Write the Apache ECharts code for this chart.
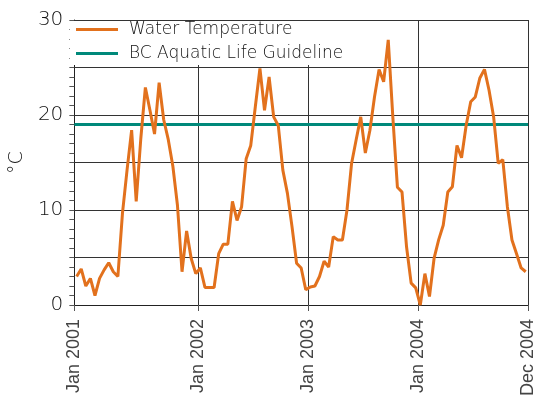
<!DOCTYPE html>
<html>
<head>
<meta charset="utf-8">
<script src="https://cdn.jsdelivr.net/npm/echarts@6/dist/echarts.min.js"></script>
<style>
  html, body { margin: 0; padding: 0; background: #fff; }
  #chart { width: 537px; height: 405px; }
</style>
</head>
<body>
<div id="chart"></div>
<script>
// semi-monthly water temperature samples, Jan 2001 - Dec 2004
const waterTemp = [
  3.0, 3.8, 2.0, 2.8, 1.0, 2.8, 3.7, 4.45, 3.5, 3.0,
  9.65, 14.2, 18.4, 10.9, 17.5, 22.9, 20.5, 18.0, 23.4, 19.5,
  17.4, 14.6, 10.5, 3.5, 7.8, 4.9, 3.3,
  3.9, 1.85, 1.85, 1.85, 5.4, 6.4, 6.4, 10.9, 8.9, 10.35,
  15.4, 16.8, 20.9, 24.9, 20.5, 24.0, 19.8, 18.9, 14.2, 11.75,
  8.25, 4.4, 3.9,
  1.6, 1.9, 2.0, 3.0, 4.6, 4.0, 7.2, 6.85, 6.85, 10.0,
  14.9, 17.4, 19.8, 16.0, 18.4, 21.9, 24.8, 23.5, 27.9, 19.8,
  12.4, 11.9, 6.1, 2.3,
  1.8, 0, 3.3, 0.9, 4.9, 6.85, 8.4, 11.9, 12.45, 16.8,
  15.5, 18.9, 21.4, 21.9, 23.9, 24.8, 22.6, 19.8, 14.9, 15.3,
  10.35, 6.85, 5.4, 3.9, 3.5
];
const guideline = 19;
const tickPos = [0, 27, 51, 75, 99];
const tickLabels = ['Jan 2001', 'Jan 2002', 'Jan 2003', 'Jan 2004', 'Dec 2004'];
const yLabels = [0, 10, 20, 30];

const n = waterTemp.length;
const tempData = waterTemp.map((v, i) => [i + 0.5, v]);

const chart = echarts.init(document.getElementById('chart'));
chart.setOption({
  animation: false,
  grid: { left: 69, right: 5, top: 20, bottom: 100 },
  legend: {
    orient: 'vertical',
    left: 70,
    top: 21,
    padding: [0, 6, 3, 6],
    itemGap: 7,
    itemWidth: 42,
    itemHeight: 3,
    backgroundColor: '#fff',
    icon: 'rect',
    textStyle: { fontFamily: 'DejaVu Sans', fontWeight: 200, fontSize: 17, color: '#111', padding: [0, 0, 0, 6] },
    data: ['Water Temperature', 'BC Aquatic Life Guideline']
  },
  xAxis: {
    type: 'value',
    min: 0,
    max: n,
    interval: 3,
    axisLine: { show: true, onZero: false, lineStyle: { color: '#222', width: 1 } },
    axisTick: { show: true, length: 6, customValues: tickPos, lineStyle: { color: '#555' } },
    splitLine: { show: true, lineStyle: { color: '#333', width: 1 } },
    axisLabel: {
      customValues: tickPos,
      rotate: 90,
      margin: 14,
      fontFamily: 'Liberation Sans',
      fontSize: 18,
      color: '#444',
      formatter: v => tickLabels[tickPos.indexOf(v)] || ''
    }
  },
  yAxis: {
    type: 'value',
    min: 0,
    max: 30,
    interval: 5,
    name: '°C',
    nameLocation: 'middle',
    nameGap: 46,
    nameTextStyle: { fontFamily: 'DejaVu Sans', fontWeight: 200, fontSize: 19, color: '#111' },
    axisLine: { show: true, lineStyle: { color: '#222' } },
    axisTick: { show: true, length: 5, lineStyle: { color: '#555' } },
    minorTick: { show: true, splitNumber: 5, length: 5, lineStyle: { color: '#555' } },
    splitLine: { show: true, lineStyle: { color: '#333', width: 1 } },
    axisLabel: {
      customValues: yLabels,
      margin: 11,
      fontFamily: 'DejaVu Sans',
      fontWeight: 200,
      fontSize: 20,
      color: '#111'
    }
  },
  series: [
    {
      name: 'Water Temperature',
      type: 'line',
      data: tempData,
      symbol: 'none',
      color: '#E2711D',
      lineStyle: { color: '#E2711D', width: 3 },
      z: 3
    },
    {
      name: 'BC Aquatic Life Guideline',
      type: 'line',
      data: [[0, guideline], [n, guideline]],
      symbol: 'none',
      color: '#00897A',
      lineStyle: { color: '#00897A', width: 3 },
      z: 2
    }
  ]
});
</script>
</body>
</html>
